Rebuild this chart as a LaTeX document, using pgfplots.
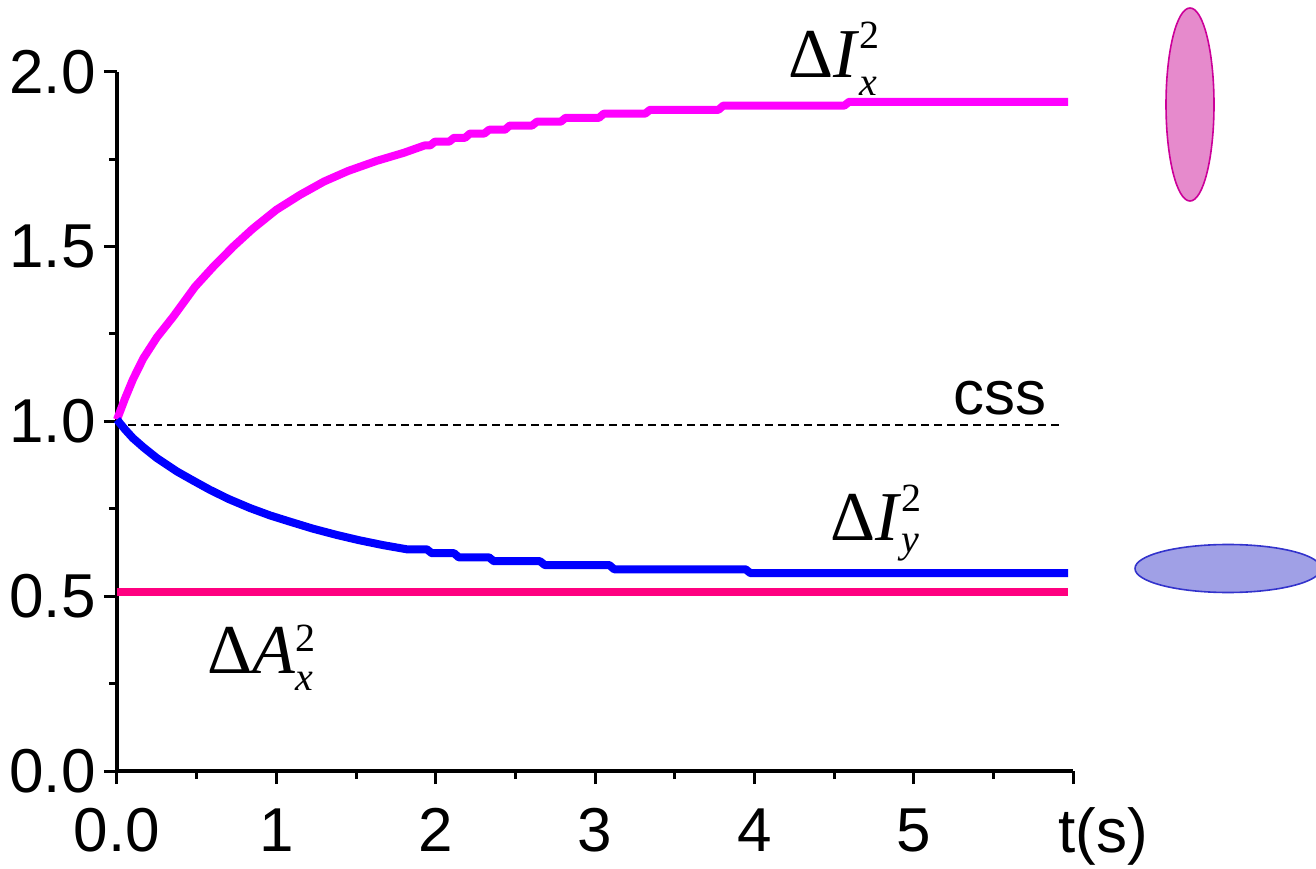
\documentclass[border=0pt]{standalone}
\usepackage{fontspec}
\setmainfont{Liberation Sans}
\newfontfamily\tnr{Liberation Serif}
\usepackage{pgfplots}
\pgfplotsset{compat=1.18}

\definecolor{magline}{RGB}{255,0,255}
\definecolor{blueline}{RGB}{0,0,255}
\definecolor{pinkline}{RGB}{255,0,128}
\definecolor{pinkfill}{RGB}{230,138,204}
\definecolor{pinkedge}{RGB}{204,0,153}
\definecolor{bluefill}{RGB}{160,160,230}
\definecolor{blueedge}{RGB}{51,51,204}

% variance label: #1 letter, #2 subscript, #3 raise of the square, #4 drop of the subscript
\newcommand\sqvar[4]{{\tnr\fontsize{35}{40}\selectfont Δ\textit{#1}\rlap{\raisebox{#3}{\fontsize{20}{24}\selectfont 2}}\raisebox{-#4}{\fontsize{20}{24}\selectfont\itshape #2}}}

\begin{document}
\begin{tikzpicture}[x=1pt,y=1pt]
\begin{axis}[
  at={(58.5pt,48.5pt)}, anchor=south west,
  scale only axis, width=478pt, height=349.65pt,
  xmin=0, xmax=6, ymin=0, ymax=2,
  axis x line*=bottom, axis y line*=left,
  axis line style={line width=1.6pt},
  tick align=outside,
  major tick length=6.5pt, minor tick length=4pt,
  every tick/.style={black, line width=1.5pt},
  xtick={0,1,2,3,4,5,6}, xticklabels={0.0,1,2,3,4,5,{}},
  ytick={0,0.5,1,1.5,2}, yticklabels={0.0,0.5,1.0,1.5,2.0},
  minor xtick={0.5,1.5,2.5,3.5,4.5,5.5}, minor ytick={0.25,0.75,1.25,1.75},
  tick label style={font=\fontsize{31}{36}\selectfont},
  xticklabel style={anchor=base, inner sep=0pt, yshift=-33.5pt},
  yticklabel style={anchor=east, inner sep=0pt, xshift=-4pt},
  clip=false,
]
% coherent-state reference level
\addplot[black, line width=1pt, dash pattern=on 4pt off 2.5pt] coordinates {(0.07,0.99) (5.93,0.99)};
% amplitude quadrature variance
\addplot[pinkline, line width=4pt] coordinates {(0,0.512) (5.97,0.512)};
% intensity variance, x component
\addplot[magline, line width=4pt, line join=round] coordinates {
 (0,1.005) (0.05,1.065) (0.10,1.12) (0.165,1.18) (0.25,1.24) (0.354,1.30)
 (0.49,1.385) (0.60,1.44) (0.73,1.50) (0.85,1.55) (1.00,1.605) (1.15,1.648)
 (1.30,1.686) (1.45,1.716) (1.63,1.745) (1.80,1.768) (1.93,1.789)
 (1.965,1.789) (1.995,1.800) (2.085,1.800) (2.115,1.811) (2.185,1.811)
 (2.215,1.823) (2.305,1.823) (2.335,1.834) (2.435,1.834) (2.465,1.846)
 (2.605,1.846) (2.635,1.857) (2.785,1.857) (2.815,1.868) (3.025,1.868)
 (3.055,1.880) (3.315,1.880) (3.345,1.891) (3.775,1.891) (3.805,1.903)
 (4.565,1.903) (4.595,1.914) (5.97,1.914)};
% intensity variance, y component
\addplot[blueline, line width=4pt, line join=round] coordinates {
 (0,1.005) (0.05,0.977) (0.10,0.952) (0.165,0.926) (0.25,0.895) (0.375,0.857)
 (0.48,0.830) (0.584,0.804) (0.70,0.778) (0.835,0.752) (0.96,0.731)
 (1.086,0.713) (1.23,0.693) (1.38,0.675) (1.52,0.660) (1.67,0.646)
 (1.82,0.634) (1.945,0.634) (1.975,0.623) (2.115,0.623) (2.145,0.611)
 (2.335,0.611) (2.365,0.600) (2.655,0.600) (2.685,0.589) (3.09,0.589)
 (3.12,0.577) (3.945,0.577) (3.975,0.566) (5.97,0.566)};
\end{axis}
\node[anchor=base west, inner sep=0pt, font=\fontsize{31}{36}\selectfont] at (476.5,226.5) {css};
\node[anchor=base west, inner sep=0pt, font=\fontsize{31}{36}\selectfont] at (529,8) {t(s)};
\node[anchor=base west, inner sep=0pt] at (394,395) {\sqvar{I}{x}{14.8pt}{9pt}};
\node[anchor=base west, inner sep=0pt] at (415,164) {\sqvar{I}{y}{14.2pt}{6.5pt}};
\node[anchor=base west, inner sep=0pt] at (103.4,97.4) {\sqvar{A}{x}{10.8pt}{8.4pt}};
% phase-space sketches
\draw[pinkedge, line width=0.8pt, fill=pinkfill] (595,381.75) ellipse [x radius=12, y radius=48.25];
\draw[blueedge, line width=0.8pt, fill=bluefill] (614,149.75) ellipse [x radius=46.5, y radius=12];
\pgfresetboundingbox
\useasboundingbox (0,0) rectangle (658,434);
\end{tikzpicture}
\end{document}
